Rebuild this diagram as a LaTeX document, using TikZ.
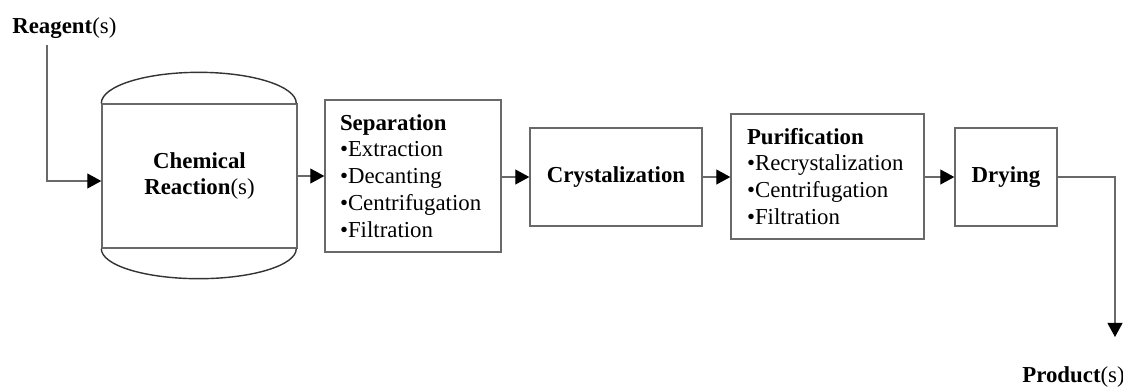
\documentclass[tikz,border=0pt]{standalone}
\usepackage{fontspec}
\setmainfont{Liberation Serif}
\usetikzlibrary{arrows.meta,calc}
\definecolor{lnc}{RGB}{105,105,105}
\begin{document}
\begin{tikzpicture}[x=0.02cm,y=-0.02cm,
  every node/.style={font=\fontsize{13}{15.3}\selectfont},
  boxst/.style={draw=lnc,line width=0.8pt,inner sep=0pt},
  listbox/.style={boxst,align=left,inner xsep=0.3cm},
  arr/.style={draw=lnc,line width=0.8pt,-{Triangle[length=8pt,width=8.5pt,color=black]}},
  capst/.style={draw=black!80,line width=0.8pt}]
\useasboundingbox (0,0) rectangle (1123,387);
% reactor
\node[boxst,minimum width=3.9cm,minimum height=2.88cm,align=center] (reac) at (199.5,176)
  {\textbf{Chemical}\\\textbf{Reaction}(s)};
\draw[capst] (reac.north west) arc[start angle=180,end angle=0,x radius=1.95cm,y radius=0.62cm];
\draw[capst] (reac.south west) arc[start angle=180,end angle=360,x radius=1.95cm,y radius=0.60cm];
% boxes
\node[listbox,minimum width=3.52cm,minimum height=3.04cm,text width=2.92cm] (sep) at (413,176)
  {\textbf{Separation}\\•Extraction\\•Decanting\\•Centrifugation\\•Filtration};
\node[boxst,minimum width=3.44cm,minimum height=1.96cm] (crys) at (616,177) {\textbf{Crystalization}};
\node[listbox,minimum width=3.86cm,minimum height=2.5cm,text width=3.22cm,inner xsep=0.32cm] (pur) at (827.5,176.5)
  {\textbf{Purification}\\•Recrystalization\\•Centrifugation\\•Filtration};
\node[boxst,minimum width=2.04cm,minimum height=1.96cm] (dry) at (1006,177) {\textbf{Drying}};
% labels
\node[anchor=base west,inner sep=0pt] (reag) at (12,33) {\textbf{Reagent}(s)};
\node[anchor=base west,inner sep=0pt] (prod) at (1022,382) {\textbf{Product}(s)};
\coordinate (rin) at (47,45);
\coordinate (pout) at (1115,337);
% connectors
\draw[arr] (rin) |- ($(reac.west)+(0,5)$);
\draw[arr] (reac.east) -- (sep.west |- reac.east);
\draw[arr] (sep.east |- crys.west) -- (crys.west);
\draw[arr] (crys.east) -- (pur.west |- crys.east);
\draw[arr] (pur.east |- dry.west) -- (dry.west);
\draw[arr] (dry.east) -| (pout);
\end{tikzpicture}
\end{document}
